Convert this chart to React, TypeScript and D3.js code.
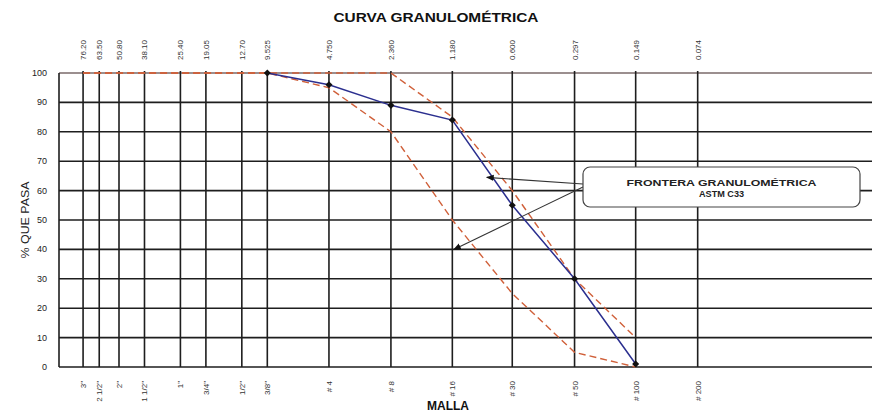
import React from "react";
import * as d3 from "d3";

const sieveMm = [76.2, 63.5, 50.8, 38.1, 25.4, 19.05, 12.7, 9.525, 4.75, 2.36, 1.18, 0.6, 0.297, 0.149, 0.074];
const topLabels = ["76.20", "63.50", "50.80", "38.10", "25.40", "19.05", "12.70", "9.525", "4.750", "2.360", "1.180", "0.600", "0.297", "0.149", "0.074"];
const bottomLabels = ['3"', '2 1/2"', '2"', '1 1/2"', '1"', '3/4"', '1/2"', '3/8"', "# 4", "# 8", "# 16", "# 30", "# 50", "# 100", "# 200"];
const yTicks = [0, 10, 20, 30, 40, 50, 60, 70, 80, 90, 100];

const sampleMm = [9.525, 4.75, 2.36, 1.18, 0.6, 0.297, 0.149];
const samplePass = [100, 96, 89, 84, 55, 30, 1];

const limitMm = [76.2, 9.525, 4.75, 2.36, 1.18, 0.6, 0.297, 0.149];
const upperPass = [100, 100, 100, 100, 85, 60, 30, 10];
const lowerPass = [100, 100, 95, 80, 50, 25, 5, 0];

const titleText = "CURVA GRANULOMÉTRICA";
const yTitle = "% QUE PASA";
const xTitle = "MALLA";
const legendLines = ["FRONTERA GRANULOMÉTRICA", "ASTM C33"];

export default function App() {
  const W = 872, H = 414;
  const left = 59, right = 875, top = 73, bottom = 367;
  const x = d3.scaleLog().domain([100, 0.01]).range([left, right]);
  const y = d3.scaleLinear().domain([0, 100]).range([bottom, top]);
  const line = d3.line<[number, number]>().x(d => x(d[0])).y(d => y(d[1]));
  const sample = sampleMm.map((m, i) => [m, samplePass[i]] as [number, number]);
  const upper = limitMm.map((m, i) => [m, upperPass[i]] as [number, number]);
  const lower = limitMm.map((m, i) => [m, lowerPass[i]] as [number, number]);
  const font = "'Liberation Sans', Arial, sans-serif";
  const red = "#d0603a";
  const blue = "#2b2f8f";
  const grid = "#1e1e1e";

  // legend / annotation
  const boxX = 583, boxY = 167, boxW = 277, boxH = 40;
  const arrowStart: [number, number] = [boxX, boxY + 18];
  const arrowTargets: [number, number][] = [
    [x(0.8), y(64.5)],
    [x(1.16), y(40)],
  ];

  return (
    <svg width={W} height={H} style={{ position: "absolute", left: 0, top: 0, background: "#fff" }} fontFamily={font}>
      <defs>
        <marker id="ah" viewBox="0 0 10 10" refX="9" refY="5" markerWidth="7" markerHeight="7" orient="auto">
          <path d="M0,1 L10,5 L0,9 z" fill="#111" />
        </marker>
      </defs>
      <rect x={0} y={0} width={W} height={H} fill="#fff" />
      <text x={436} y={22} textAnchor="middle" fontSize={13} fontWeight="bold" textLength={205} lengthAdjust="spacingAndGlyphs" fill="#111">
        {titleText}
      </text>

      {/* horizontal grid */}
      {yTicks.map(t => (
        <line key={"h" + t} x1={left} x2={W} y1={y(t)} y2={y(t)} stroke={t === 100 ? "#7a6a6a" : grid} strokeWidth={1.6} />
      ))}
      {/* left border */}
      <line x1={left} x2={left} y1={top} y2={bottom} stroke={grid} strokeWidth={1.6} />
      {/* vertical sieve lines */}
      {sieveMm.map(m => (
        <line key={"v" + m} x1={x(m)} x2={x(m)} y1={top - 2} y2={bottom} stroke={grid} strokeWidth={1.6} />
      ))}

      {/* y tick labels */}
      {yTicks.map(t => (
        <text key={"yl" + t} x={47} y={y(t) + 3} textAnchor="end" fontSize={9} fill="#222">{t}</text>
      ))}
      <text transform={`translate(29,${(top + bottom) / 2}) rotate(-90)`} textAnchor="middle" fontSize={11} textLength={77} lengthAdjust="spacingAndGlyphs" fill="#222">{yTitle}</text>

      {/* top labels */}
      {sieveMm.map((m, i) => (
        <text key={"tl" + i} transform={`translate(${x(m) + 3},50) rotate(-90)`} textAnchor="middle" fontSize={8} fill="#333">{topLabels[i]}</text>
      ))}
      {/* bottom labels */}
      {sieveMm.map((m, i) => (
        <text key={"bl" + i} transform={`translate(${x(m) + 3},381) rotate(-90)`} textAnchor="end" fontSize={8} fill="#333">{bottomLabels[i]}</text>
      ))}
      <text x={448} y={410} textAnchor="middle" fontSize={12} fontWeight="bold" fill="#111">{xTitle}</text>

      {/* limits */}
      <path d={line(upper) || ""} fill="none" stroke={red} strokeWidth={1.4} strokeDasharray="7,4" />
      <path d={line(lower) || ""} fill="none" stroke={red} strokeWidth={1.4} strokeDasharray="7,4" />

      {/* sample */}
      <path d={line(sample) || ""} fill="none" stroke={blue} strokeWidth={1.5} />
      {sample.map((d, i) => (
        <rect key={"p" + i} x={x(d[0]) - 2.5} y={y(d[1]) - 2.5} width={5} height={5} fill="#111" transform={`rotate(45,${x(d[0])},${y(d[1])})`} />
      ))}

      {/* annotation */}
      {arrowTargets.map((t, i) => (
        <line key={"ar" + i} x1={arrowStart[0]} y1={arrowStart[1] + (i === 0 ? -1 : 2)} x2={t[0]} y2={t[1]} stroke="#333" strokeWidth={1.1} markerEnd="url(#ah)" />
      ))}
      <rect x={boxX} y={boxY} width={boxW} height={boxH} rx={7} ry={7} fill="#fff" stroke="#444" strokeWidth={1.2} />
      <text x={boxX + boxW / 2} y={boxY + 18.5} textAnchor="middle" fontSize={9.5} fontWeight="bold" textLength={190} lengthAdjust="spacingAndGlyphs" fill="#222">{legendLines[0]}</text>
      <text x={boxX + boxW / 2} y={boxY + 29.5} textAnchor="middle" fontSize={9.5} fontWeight="bold" textLength={45} lengthAdjust="spacingAndGlyphs" fill="#222">{legendLines[1]}</text>
    </svg>
  );
}
